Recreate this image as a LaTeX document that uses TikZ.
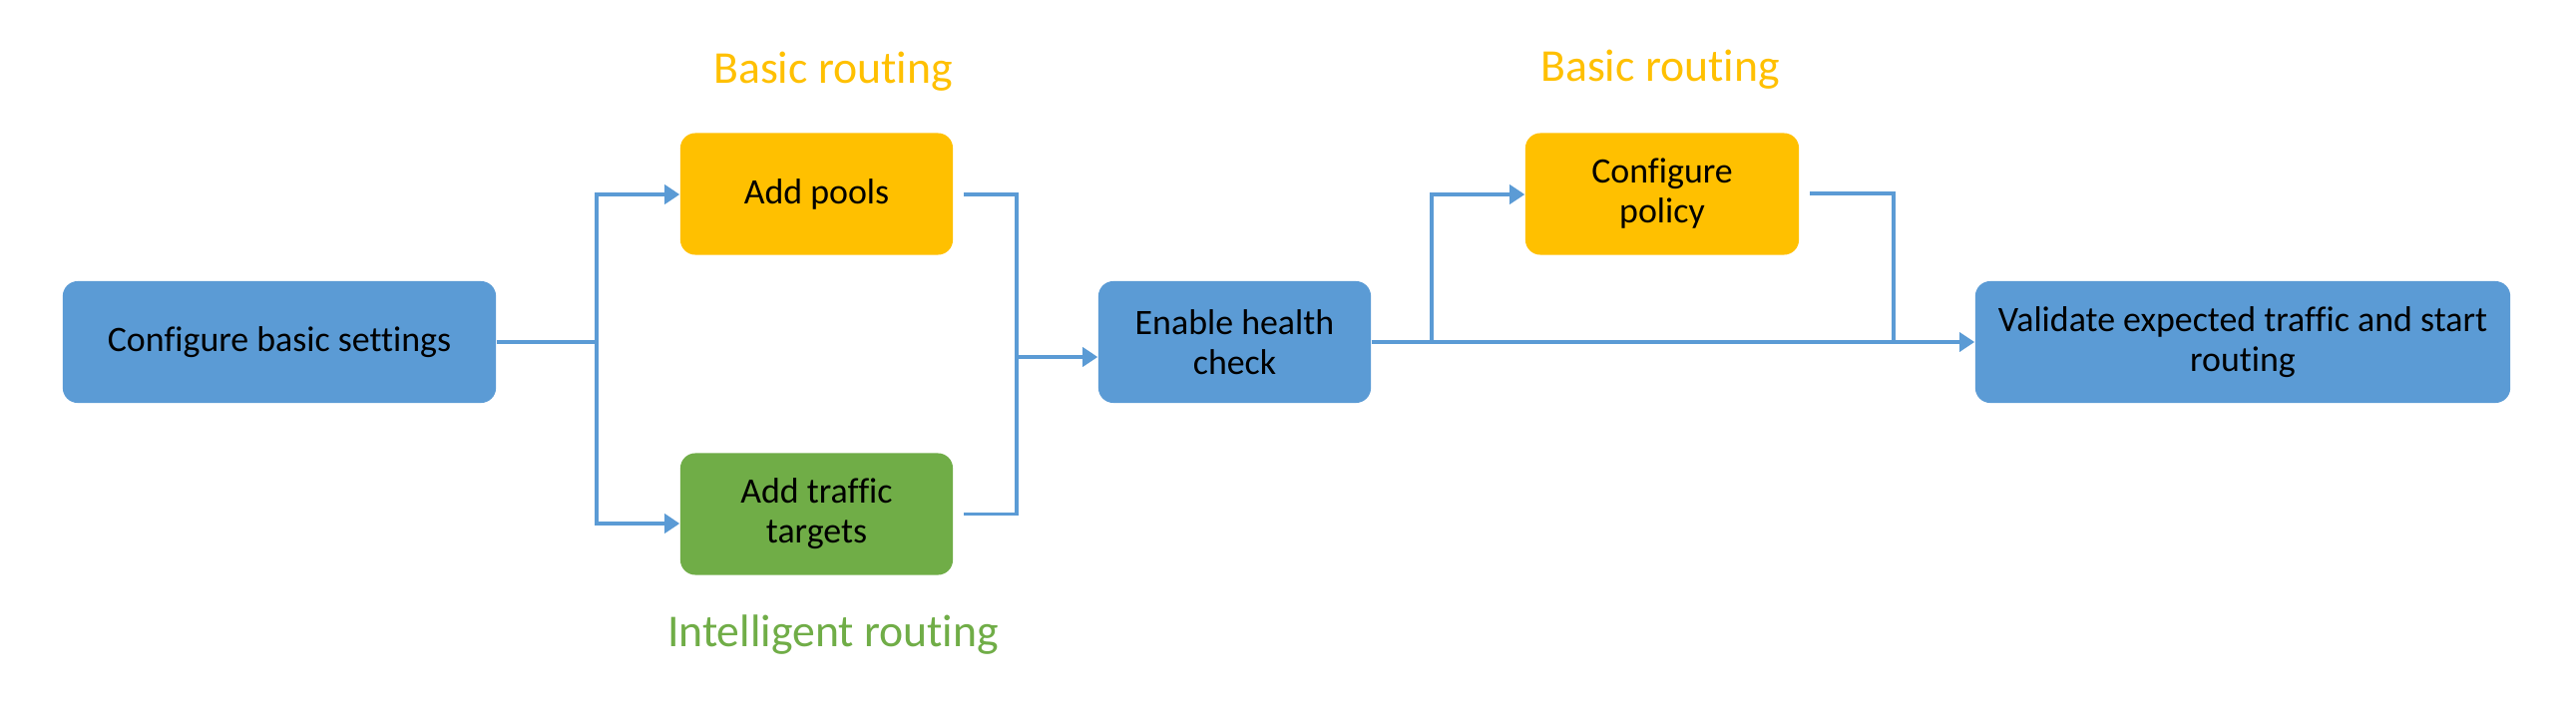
\documentclass[tikz,border=0pt]{standalone}
\usepackage{fontspec}
\setmainfont{Carlito}[Ligatures=NoCommon]
\usetikzlibrary{arrows.meta,calc}
\definecolor{bblue}{HTML}{5B9BD5}
\definecolor{byellow}{HTML}{FFC000}
\definecolor{bgreen}{HTML}{70AD47}
\definecolor{lineblue}{HTML}{5B9BD5}
\begin{document}
\begin{tikzpicture}[x=0.01cm,y=-0.01cm,
  box/.style={rounded corners=0.15cm, minimum height=1.22cm, align=center, inner sep=0pt,
    font=\fontsize{10.2}{11.4}\selectfont},
  conn/.style={draw=lineblue, line width=0.95pt},
  arr/.style={conn, -{Triangle[length=0.15cm,width=0.19cm]}},
  lbl/.style={font=\fontsize{13}{15}\selectfont}]
\useasboundingbox (0,0) rectangle (2582,706);
\fill[white] (0,0) rectangle (2582,706);
% boxes
\node[box, fill=bblue, minimum width=4.34cm] (cfg) at (280,343) {\raisebox{-1.5pt}{Configure basic settings}};
\node[box, fill=byellow, minimum width=2.73cm] (pools) at (818.5,194.5) {\raisebox{-1.5pt}{Add pools}};
\node[box, fill=bgreen, minimum width=2.73cm] (targets) at (818.5,515.5) {Add traffic\\targets};
\node[box, fill=bblue, minimum width=2.73cm] (health) at (1237.5,343) {Enable health\\check};
\node[box, fill=byellow, minimum width=2.74cm] (policy) at (1666,194.5) {Configure\\policy};
\node[box, fill=bblue, minimum width=5.36cm] (validate) at (2248,343) {Validate expected traffic and start\\routing};
% labels
\node[lbl, text=byellow] (lb1) at (835,72) {Basic routing};
\node[lbl, text=bgreen] (lb2) at (835,637) {Intelligent routing};
\node[lbl, text=byellow] (lb3) at (1664,70) {Basic routing};
% junction coordinates
\coordinate (j1) at (598,343);
\coordinate (j1t) at (598,195);
\coordinate (j1b) at (598,525);
\coordinate (j2t) at (1019,195);
\coordinate (j2b) at (1019,515.5);
\coordinate (j2m) at (1019,358);
\coordinate (j3) at (1435,343);
\coordinate (j3t) at (1435,195);
\coordinate (j4t) at (1898,194);
\coordinate (j4) at (1898,343);
% connectors
\draw[conn] (cfg.east) -- (j1);
\draw[arr] (j1) -- (j1t) -- (pools.west |- j1t);
\draw[arr] (j1) -- (j1b) -- (targets.west |- j1b);
\draw[conn] ([xshift=3pt]pools.east |- j2t) -- (j2t) -- (j2b) -- ([xshift=3pt]targets.east |- j2b);
\draw[arr] (j2m) -- (health.west |- j2m);
\draw[arr] (health.east) -- (validate.west);
\draw[arr] (j3) -- (j3t) -- (policy.west |- j3t);
\draw[conn] ([xshift=3pt]policy.east |- j4t) -- (j4t) -- (j4);
\end{tikzpicture}
\end{document}
